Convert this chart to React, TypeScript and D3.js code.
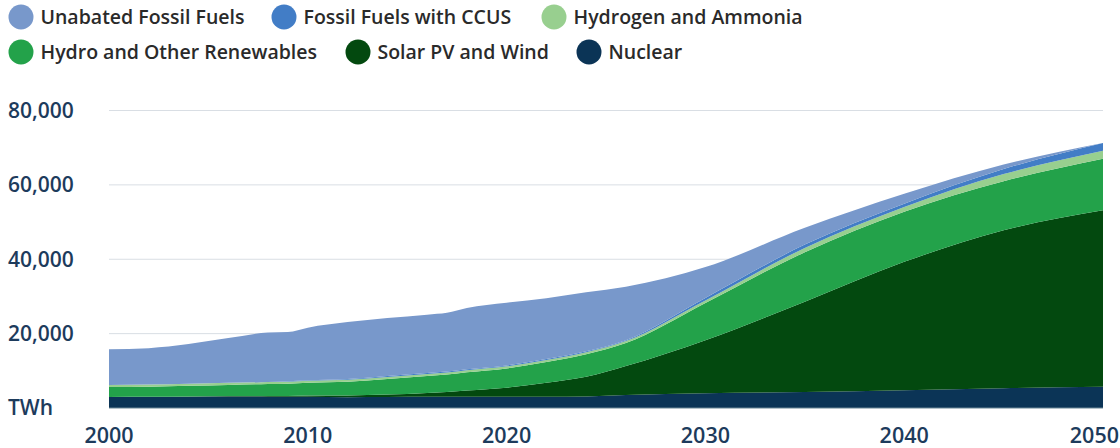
import React from "react";
import * as d3 from "d3";

const years = [2000, 2002, 2004, 2006, 2008, 2009, 2010, 2012, 2014, 2016, 2017, 2018, 2020, 2022, 2024, 2026, 2030, 2035, 2040, 2045, 2050];
const nuclear = [2950, 3000, 3050, 3100, 3050, 3000, 3050, 2900, 2950, 3000, 3000, 3050, 3050, 3000, 3100, 3500, 3950, 4300, 4800, 5300, 5700];
const solarWind = [30, 40, 70, 110, 180, 230, 300, 480, 650, 1050, 1300, 1650, 2400, 3800, 5300, 7800, 14300, 24300, 34500, 42500, 47500];
const hydroOther = [2660, 2700, 2850, 3000, 3200, 3300, 3450, 3700, 4200, 4550, 4700, 4900, 5200, 5550, 6050, 6150, 10000, 13300, 13500, 13200, 13850];
const hydrogen = [550, 550, 550, 550, 550, 550, 550, 550, 550, 550, 550, 550, 550, 550, 550, 550, 650, 1150, 1250, 1900, 2150];
const ccus = [0, 0, 0, 0, 0, 100, 100, 150, 250, 250, 250, 250, 250, 250, 250, 250, 700, 900, 900, 1350, 2060];
const unabated = [9590, 9810, 10680, 12040, 13320, 13270, 14150, 15320, 15600, 15700, 15800, 16500, 16850, 16350, 15850, 14350, 8300, 4500, 2650, 1200, 0];

const seriesNames = ["Unabated Fossil Fuels", "Fossil Fuels with CCUS", "Hydrogen and Ammonia", "Hydro and Other Renewables", "Solar PV and Wind", "Nuclear"];
const seriesColors = ["#7898cb", "#427dc6", "#98cf8f", "#23a24a", "#03490f", "#0b3456"];
const yTicks = [20000, 40000, 60000, 80000];
const xTicks = [2000, 2010, 2020, 2030, 2040, 2050];

const W = 1120;
const H = 448;

export default function App() {
  const x = d3.scaleLinear().domain([2000, 2050]).range([109, 1103]);
  const y = d3.scaleLinear().domain([0, 80000]).range([408, 110.5]);

  const seriesData = [unabated, ccus, hydrogen, hydroOther, solarWind, nuclear];
  const stackOrder = [5, 4, 3, 2, 1, 0];
  const table = years.map((yr, i) => {
    const row: any = { year: yr };
    seriesNames.forEach((n, k) => (row[n] = seriesData[k][i]));
    return row;
  });
  const keys = stackOrder.map((k) => seriesNames[k]);
  const stacked = d3.stack().keys(keys)(table);
  const area = d3
    .area<any>()
    .x((d) => x(d.data.year))
    .y0((d) => y(d[0]))
    .y1((d) => y(d[1]))
    .curve(d3.curveMonotoneX);

  const legendRows = [
    [
      { i: 0, cx: 21 },
      { i: 1, cx: 284 },
      { i: 2, cx: 554 },
    ],
    [
      { i: 3, cx: 21 },
      { i: 4, cx: 358 },
      { i: 5, cx: 589 },
    ],
  ];
  const rowY = [17, 52];
  const font = "'Open Sans', sans-serif";
  const axisColor = "#1d3b5c";

  return (
    <svg width={W} height={H} style={{ position: "absolute", left: 0, top: 0 }}>
      <rect x={0} y={0} width={W} height={H} fill="#ffffff" />
      {legendRows.map((row, r) =>
        row.map((it) => (
          <g key={`${r}-${it.i}`}>
            <circle cx={it.cx} cy={rowY[r]} r={12.5} fill={seriesColors[it.i]} />
            <text
              x={it.cx + 19.5}
              y={rowY[r]}
              dy="0.35em"
              fontFamily={font}
              fontSize={19.5}
              fontWeight={600}
              fill="#2a2a2a"
            >
              {seriesNames[it.i]}
            </text>
          </g>
        ))
      )}
      {yTicks.map((t) => (
        <line key={t} x1={109} x2={1103} y1={y(t)} y2={y(t)} stroke="#d9dee4" strokeWidth={1} />
      ))}
      {stacked.map((s) => {
        const idx = seriesNames.indexOf(s.key);
        return <path key={s.key} d={area(s as any) || ""} fill={seriesColors[idx]} />;
      })}
      <line x1={109} x2={1103} y1={y(0)} y2={y(0)} stroke="#6b8796" strokeWidth={1} />
      {yTicks.map((t) => (
        <text
          key={t}
          x={8}
          y={y(t)}
          dy="0.35em"
          fontFamily={font}
          fontSize={21}
          fontWeight={600}
          fill={axisColor}
        >
          {d3.format(",")(t)}
        </text>
      ))}
      <text x={8} y={y(0)} dy="0.35em" fontFamily={font} fontSize={21} fontWeight={600} fill={axisColor}>
        TWh
      </text>
      {xTicks.map((t, i) => (
        <text
          key={t}
          x={i === xTicks.length - 1 ? 1119 : x(t)}
          y={435}
          dy="0.35em"
          textAnchor={i === xTicks.length - 1 ? "end" : "middle"}
          fontFamily={font}
          fontSize={21.5}
          fontWeight={600}
          fill={axisColor}
        >
          {t}
        </text>
      ))}
    </svg>
  );
}
